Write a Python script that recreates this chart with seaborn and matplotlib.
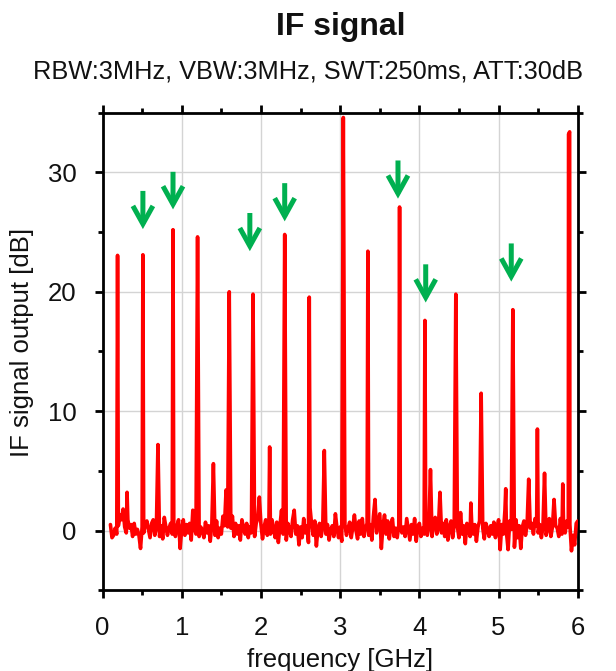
import numpy as np
import pandas as pd
import matplotlib
matplotlib.use("Agg")
import matplotlib.pyplot as plt
import seaborn as sns
from matplotlib.ticker import MultipleLocator

# ---- data ----
sweep_start = 0.10   # GHz
sweep_step = 0.02    # GHz
noise_db = [
    0.5, -0.6, -0.4, 0.2, -0.3, 0.4, 1.3, 0.9, 1.8, 0.3,
    -0.2, 0.9, 0.2, 0.5, -0.5, 0.6, -0.3, 0.1, -0.4, -1.5,
    0.3, -0.2, 0.5, 0.8, 0.1, -0.6, 0.6, 0.9, -0.4, 0.2,
    0.0, -0.5, 0.4, -0.7, 1.1, 0.3, -0.4, 0.2, 0.6, -0.3,
    0.2, -0.5, 0.4, 0.9, -1.5, 0.1, 0.9, -0.4, 0.5, -0.2,
    0.6, -0.8, 1.7, 0.2, -0.3, 0.9, -0.5, 0.3, 0.0, -0.6,
    0.7, -0.2, 0.4, -0.9, 0.5, 0.1, -0.4, 0.8, -0.6, 0.2,
    -0.3, 1.2, 0.4, -0.2, 0.3, -1.4, 0.2, 1.2, -0.5, 0.6,
    -0.3, 0.4, -0.8, 0.9, 0.2, -0.3, 0.6, -0.6, 0.3, -0.2,
    0.4, -0.5, 0.6, 1.0, -0.2, 0.5, -0.7, 0.3, 0.9, -0.4,
    0.2, -0.3, 0.9, 0.1, -0.6, 0.7, -1.0, 0.4, 1.7, -0.3,
    0.5, -0.8, 0.6, 0.1, -0.5, 0.9, 1.7, -0.3, 0.4, -1.2,
    0.3, -0.6, 1.0, -0.2, 0.4, -1.0, 1.9, 0.5, -0.4, 0.8,
    -1.3, 0.2, 0.6, -0.5, 0.3, 0.9, -0.3, 0.5, -0.8, 0.1,
    0.4, -0.5, 1.4, 0.2, -0.6, 0.3, -0.9, 0.1, 0.5, -0.4,
    0.2, 0.7, -0.6, 0.3, 1.3, 0.0, -0.7, 0.8, -0.3, 1.0,
    -0.5, 0.2, 0.6, -0.4, 0.5, -0.8, 1.2, 0.3, -0.2, 0.6,
    1.4, -1.5, 0.4, 1.3, -0.3, 0.8, -0.7, 0.3, 1.0, -0.5,
    0.2, -0.6, 0.4, 0.5, -0.2, 0.3, -0.5, 1.0, 0.1, -0.8,
    0.5, -0.3, 1.0, -0.9, 0.3, 0.6, -0.5, 0.2, -0.3, 0.4,
    -0.4, 0.3, 0.8, -0.5, 0.6, 1.1, -0.3, 0.2, 0.4, -0.2,
    0.6, -0.5, 0.9, -0.8, 0.3, 0.8, -0.6, 0.5, -0.2, 0.3,
    -0.6, 1.5, -0.3, 0.4, -1.1, 0.6, 0.2, -0.5, 0.7, -0.3,
    0.5, -0.9, 0.3, 0.8, -0.4, 0.2, -0.7, 0.6, 0.1, -0.5,
    0.4, -0.3, 0.7, -0.6, 0.2, 0.9, -1.6, 0.5, -0.3, 1.7,
    -0.2, -1.6, 0.8, 0.1, -0.5, -1.4, 0.9, -0.6, 0.4, -1.5,
    0.3, 0.8, -0.4, 0.5, -0.7, 0.2, 0.6, -0.3, 1.0, 0.4,
    -0.2, 0.5, -0.6, 0.3, 0.9, -0.4, 0.2, 1.0, -0.5, 0.3,
    -0.7, 0.4, 0.2, -0.5, 1.0, -0.3, 0.6, -0.2, 0.8, 0.3,
    0.5, -1.7, -0.4, -1.2, 0.6, 0.8,
]
peak_freq = [0.19, 0.31, 0.51, 0.70, 0.89, 1.20, 1.40, 1.56, 1.60, 1.90,
             1.98, 2.11, 2.30, 2.61, 2.80, 3.04, 3.35, 3.44, 3.75, 4.07,
             4.14, 4.26, 4.46, 4.65, 4.78, 5.09, 5.18, 5.38, 5.49, 5.58,
             5.70, 5.81, 5.883, 5.897]
peak_db = [23.05, 3.2, 23.1, 7.2, 25.2, 24.6, 5.6, 3.4, 20.0, 19.8,
           2.8, 7.0, 24.8, 19.55, 6.7, 34.6, 23.4, 2.6, 27.1, 17.6,
           5.1, 3.2, 19.8, 2.3, 11.5, 3.5, 18.5, 4.3, 8.5, 4.8,
           2.6, 3.9, 33.2, 33.4]

arrow_freq = [0.51, 0.89, 1.86, 2.30, 3.73, 4.08, 5.16]
arrow_top = [28.45, 30.05, 26.6, 29.1, 31.0, 22.3, 24.05]
arrow_tip = [25.25, 26.9, 23.4, 25.9, 27.8, 19.1, 20.85]

xticks = [0, 1, 2, 3, 4, 5, 6]
yticks = [0, 10, 20, 30]

title = "IF signal"
subtitle = "RBW:3MHz, VBW:3MHz, SWT:250ms, ATT:30dB"
xlabel = "frequency [GHz]"
ylabel = "IF signal output [dB]"

# ---- build the trace table ----
base = pd.DataFrame({
    "freq": np.round(sweep_start + sweep_step * np.arange(len(noise_db)), 3),
    "db": noise_db,
})
spikes = pd.DataFrame({"freq": peak_freq, "db": peak_db})
trace = (pd.concat([base, spikes])
         .groupby("freq", as_index=False)["db"].max()
         .sort_values("freq"))

# ---- style ----
sns.set_theme(style="white")
plt.rcParams["font.family"] = ["Liberation Sans", "DejaVu Sans"]

fig = plt.figure(figsize=(6.16, 6.71), dpi=100)
ax = fig.add_axes([0.1664, 0.1204, 0.7716, 0.7116])

sns.lineplot(data=trace, x="freq", y="db", ax=ax, color="#ff0000",
             linewidth=2.6, estimator=None, sort=True, zorder=3)

for xf, yt, yb in zip(arrow_freq, arrow_top, arrow_tip):
    ax.annotate("", xy=(xf, yb), xytext=(xf, yt),
                arrowprops=dict(arrowstyle="->,head_length=0.65,head_width=0.36",
                                color="#00b050", lw=3.6, mutation_scale=20,
                                shrinkA=0, shrinkB=0, capstyle="butt",
                                joinstyle="miter"),
                zorder=4)

ax.set_xlim(0, 6)
ax.set_ylim(-5, 35)
ax.set_xticks(xticks)
ax.set_yticks(yticks)
ax.xaxis.set_minor_locator(MultipleLocator(0.5))
ax.yaxis.set_minor_locator(MultipleLocator(5))
ax.grid(True, which="major", color="#d4d4d4", linewidth=1.0, zorder=0)
ax.set_axisbelow(True)

for sp in ax.spines.values():
    sp.set_visible(True)
    sp.set_color("black")
    sp.set_linewidth(2.0)

ax.tick_params(which="both", direction="out", color="black",
               top=True, right=True, bottom=True, left=True,
               labeltop=False, labelright=False)
ax.tick_params(which="major", length=5.5, width=2.0, labelsize=18.5,
               labelcolor="#111111")
ax.tick_params(axis="x", which="major", pad=13)
ax.tick_params(axis="y", which="major", pad=13)
ax.tick_params(which="minor", length=3.5, width=2.0)

ax.set_xlabel(xlabel, fontsize=18.5, color="#111111")
ax.set_ylabel(ylabel, fontsize=18.5, color="#111111")
ax.xaxis.set_label_coords(0.499, -0.122)
ax.yaxis.set_label_coords(-0.145, 0.518)

fig.text(0.553, 0.96, title, ha="center", va="center", fontsize=23,
         fontweight="bold", color="#111111")
fig.text(0.5, 0.893, subtitle, ha="center", va="center", fontsize=18.3,
         color="#111111")

fig.savefig("out.png", dpi=100, facecolor="white")
